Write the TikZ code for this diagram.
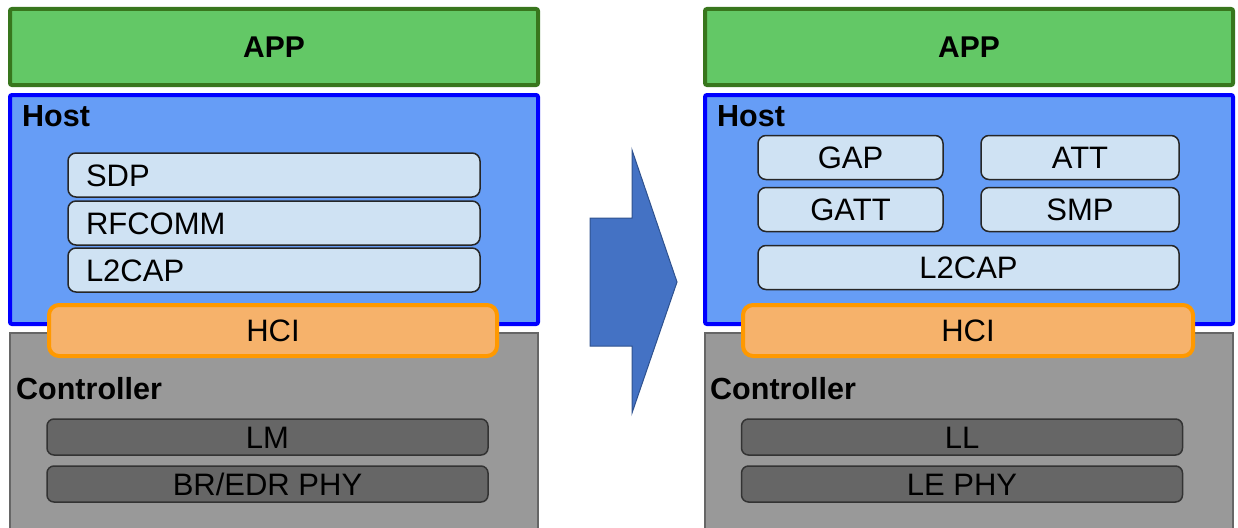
\documentclass[tikz,border=0pt]{standalone}
\usepackage{fontspec}
\setmainfont{Liberation Sans}
\usepackage{tikz}
\usetikzlibrary{shapes}

\definecolor{appgreen}{RGB}{99,200,102}
\definecolor{appborder}{RGB}{56,118,29}
\definecolor{hostblue}{RGB}{102,157,246}
\definecolor{protofill}{RGB}{207,226,243}
\definecolor{hcifill}{RGB}{246,178,107}
\definecolor{hciborder}{RGB}{255,153,0}
\definecolor{ctrlgray}{RGB}{153,153,153}
\definecolor{phygray}{RGB}{102,102,102}
\definecolor{arrowblue}{RGB}{68,114,196}
\definecolor{arrowborder}{RGB}{47,82,143}

\begin{document}
\begin{tikzpicture}[x=1pt, y=-1pt,
        every node/.style = {font=\fontsize{31}{37}\selectfont, text height=22pt, text depth=0pt, inner sep=0pt},
        app/.style = {draw=appborder, fill=appgreen, line width=4pt, rounded corners=2pt, minimum width=528pt, minimum height=76pt, font=\fontsize{30}{36}\selectfont\bfseries},
        host/.style = {draw=blue, fill=hostblue, line width=4pt, rounded corners=2pt, minimum width=528pt, minimum height=229pt},
        ctrl/.style = {draw=black!60, fill=ctrlgray, line width=1.5pt, minimum width=528pt, minimum height=206pt},
        title/.style = {anchor=west, font=\fontsize{30.5}{36}\selectfont\bfseries},
        proto/.style = {draw=black!85, fill=protofill, line width=1.5pt, rounded corners=8pt, minimum height=44pt},
        protoleft/.style = {proto, text width=376pt, inner xsep=18pt, align=left},
        hci/.style = {draw=hciborder, fill=hcifill, line width=4pt, rounded corners=10pt, minimum width=448pt, minimum height=51pt},
        phy/.style = {draw=black!80, fill=phygray, line width=1.5pt, rounded corners=7pt, minimum width=441pt, minimum height=36pt}]
                \clip (0,0) rectangle (1238,527);

                \node[app] at (274,47) (app1) {APP};
                \node[host] at (274,209.5) (host1) {};
                \node[title] at (22,115) (hostlabel1) {Host};
                \node[protoleft] at (274,175) (sdp) {SDP};
                \node[protoleft] at (274,223) (rfcomm) {RFCOMM};
                \node[protoleft] at (274,270) (l2cap1) {L2CAP};
                \node[ctrl] at (274,436) (ctrl1) {};
                \node[title] at (16,388) (ctrllabel1) {Controller};
                \node[phy] at (267.5,437) (lm) {LM};
                \node[phy] at (267.5,484) (brphy) {BR/EDR PHY};
                \node[hci] at (273,330.5) (hci1) {HCI};

                \draw[draw=arrowborder, fill=arrowblue, line width=1pt] (590,218) -- (632,218) -- (632,150) -- (677,282) -- (632,413) -- (632,346) -- (590,346) -- cycle;

                \node[app] at (969,47) (app2) {APP};
                \node[host] at (969,209.5) (host2) {};
                \node[title] at (717,115) (hostlabel2) {Host};
                \node[proto, minimum width=185pt] at (850.5,157.5) (gap) {GAP};
                \node[proto, minimum width=198pt] at (1080,157.5) (att) {ATT};
                \node[proto, minimum width=185pt] at (850.5,209.5) (gatt) {GATT};
                \node[proto, minimum width=198pt] at (1080,209.5) (smp) {SMP};
                \node[proto, minimum width=421pt] at (968.5,267.5) (l2cap2) {L2CAP};
                \node[ctrl] at (969,436) (ctrl2) {};
                \node[title] at (710,388) (ctrllabel2) {Controller};
                \node[phy] at (962,437) (ll) {LL};
                \node[phy] at (962,484) (lephy) {LE PHY};
                \node[hci, minimum width=450pt] at (968,330.5) (hci2) {HCI};
\end{tikzpicture}
\end{document}
